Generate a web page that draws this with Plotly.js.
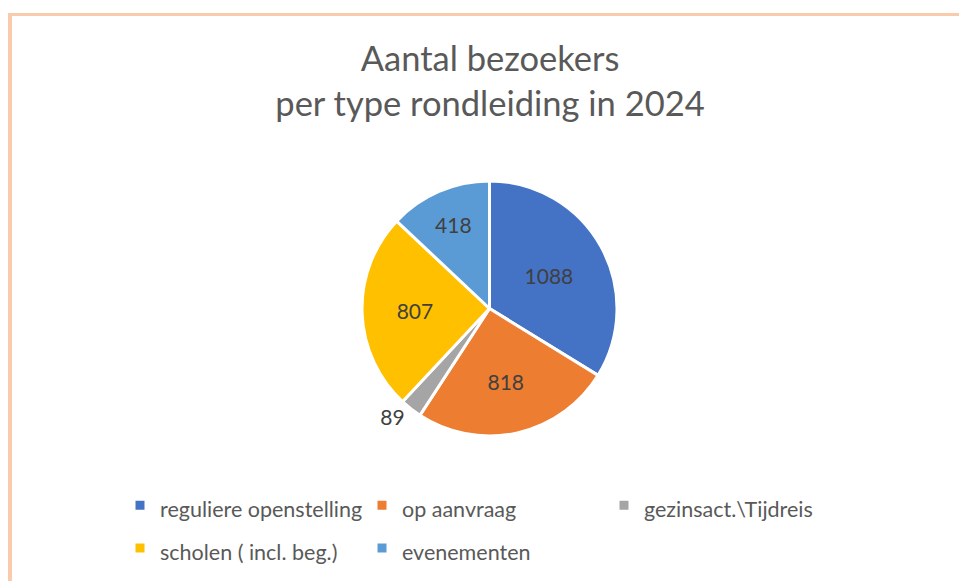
<!DOCTYPE html>
<html>
<head>
<meta charset="utf-8">
<script src="https://cdn.plot.ly/plotly-3.0.1.min.js"></script>
<style>html,body{margin:0;padding:0;background:#fff;}#chart{width:959px;height:581px;}</style>
</head>
<body>
<div id="chart"></div>
<script>
const categories = ["reguliere openstelling", "op aanvraag", "gezinsact.\\Tijdreis", "scholen ( incl. beg.)", "evenementen"];
const visitors = [1088, 818, 89, 807, 418];
const colors = ["#4472C4", "#ED7D31", "#A5A5A5", "#FFC000", "#5B9BD5"];
const textPositions = ["inside", "inside", "outside", "inside", "inside"];

const W = 959, H = 581;
const font = "Lato, 'Open Sans', sans-serif";
const legendLabels = categories.map(c => '<span style="font-size:21.5px">' + c + '</span>');

const trace = {
  type: "pie",
  labels: legendLabels,
  values: visitors,
  sort: false,
  direction: "clockwise",
  rotation: 0,
  marker: { colors: colors, line: { color: "#ffffff", width: 3 } },
  texttemplate: "%{value}",
  textposition: textPositions,
  insidetextorientation: "horizontal",
  textfont: { family: font, size: 21, color: "#404040" },
  hoverinfo: "label+value",
  domain: { x: [361 / W, 618 / W], y: [1 - 436 / H, 1 - 181 / H] },
  showlegend: true
};

const layout = {
  width: W, height: H,
  margin: { l: 0, r: 0, t: 0, b: 0 },
  paper_bgcolor: "#ffffff",
  font: { family: font, color: "#595959" },
  title: {
    text: "Aantal bezoekers<br>per type rondleiding in 2024",
    font: { family: font, size: 34.5, color: "#595959" },
    x: 490 / W, xanchor: "center",
    y: 1 - 71 / H, yanchor: "top",
    xref: "paper", yref: "paper"
  },
  legend: {
    orientation: "h",
    x: 120 / W, xanchor: "left",
    y: 1 - 479 / H, yanchor: "top",
    entrywidth: 197, entrywidthmode: "pixels",
    font: { family: font, size: 30.5, color: "#595959" },
    traceorder: "normal"
  },
  shapes: [
    { type: "line", xref: "paper", yref: "paper", x0: 8 / W, x1: 1, y0: 1 - 14.5 / H, y1: 1 - 14.5 / H, line: { color: "#F8CBAD", width: 3 } },
    { type: "line", xref: "paper", yref: "paper", x0: 10 / W, x1: 10 / W, y0: 1 - 13 / H, y1: 0, line: { color: "#F8CBAD", width: 4 } }
  ]
};

Plotly.newPlot("chart", [trace], layout, { displayModeBar: false, staticPlot: true });
</script>
</body>
</html>
